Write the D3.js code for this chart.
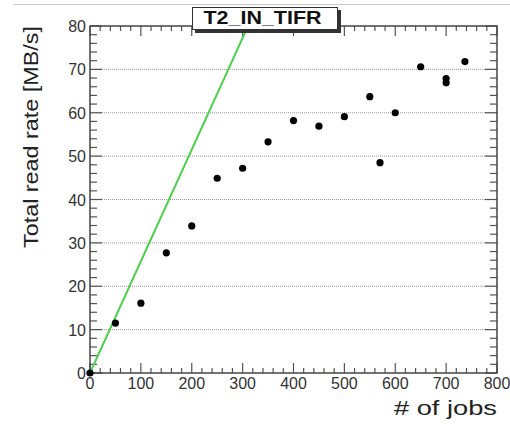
<!DOCTYPE html>
<html>
<head>
<meta charset="utf-8">
<script src="https://cdn.jsdelivr.net/npm/d3@7"></script>
<style>
  body { margin: 0; background: #fff; }
  svg { display: block; font-family: "Liberation Sans", Arial, sans-serif; }
</style>
</head>
<body>
<div class="container"></div>
<script>
const WIDTH = 510;
const HEIGHT = 424;
const LEFT = 90, RIGHT = 497, TOP = 26, BOTTOM = 373;

// measured points: jobs vs total read rate
var jobs = [0, 50, 100, 150, 200, 250, 300, 350, 400, 450, 500, 550, 570, 600, 650, 700, 700, 737];
var rates = [0, 11.5, 16.1, 27.7, 33.9, 44.9, 47.2, 53.3, 58.2, 56.9, 59.1, 63.7, 48.5, 60.0, 70.6, 67.9, 66.9, 71.8];
// fitted line, MB/s per job
var lineJobs = [0, 400];
var lineSlope = 0.2575;
var xTicks = [0, 100, 200, 300, 400, 500, 600, 700, 800];
var yTicks = [0, 10, 20, 30, 40, 50, 60, 70, 80];

var svg = d3.select('.container').append('svg')
  .attr('width', WIDTH).attr('height', HEIGHT);

var x = d3.scaleLinear().domain([0, 800]).range([LEFT, RIGHT]);
var y = d3.scaleLinear().domain([0, 80]).range([BOTTOM, TOP]);

// thin line at the top of the slide
svg.append('line').attr('x1', 14).attr('x2', WIDTH).attr('y1', 4.5).attr('y2', 4.5)
  .attr('stroke', '#c8c8c8').attr('stroke-width', 1);

// dotted grid
svg.append('g').selectAll('line').data(yTicks.slice(1, -1)).enter().append('line')
  .attr('x1', LEFT).attr('x2', RIGHT)
  .attr('y1', d => y(d)).attr('y2', d => y(d))
  .attr('stroke', '#999').attr('stroke-width', 1).attr('stroke-dasharray', '1,1');

var tickColor = '#555';
var minorX = d3.range(0, 801, 20);
var minorY = d3.range(0, 81, 2);

// bottom ticks (inward)
svg.append('g').selectAll('line').data(minorX).enter().append('line')
  .attr('x1', d => x(d)).attr('x2', d => x(d))
  .attr('y1', BOTTOM).attr('y2', d => BOTTOM - (d % 100 === 0 ? 10 : 5))
  .attr('stroke', tickColor).attr('stroke-width', 1.2);
// top ticks
svg.append('g').selectAll('line').data(minorX).enter().append('line')
  .attr('x1', d => x(d)).attr('x2', d => x(d))
  .attr('y1', TOP).attr('y2', d => TOP + (d % 100 === 0 ? 10 : 5))
  .attr('stroke', tickColor).attr('stroke-width', 1.2);
// left ticks
svg.append('g').selectAll('line').data(minorY).enter().append('line')
  .attr('y1', d => y(d)).attr('y2', d => y(d))
  .attr('x1', LEFT).attr('x2', d => LEFT + (d % 10 === 0 ? 12 : 7))
  .attr('stroke', tickColor).attr('stroke-width', 1.2);
// right ticks
svg.append('g').selectAll('line').data(minorY).enter().append('line')
  .attr('y1', d => y(d)).attr('y2', d => y(d))
  .attr('x1', RIGHT).attr('x2', d => RIGHT - (d % 10 === 0 ? 12 : 7))
  .attr('stroke', tickColor).attr('stroke-width', 1.2);

// frame
svg.append('rect').attr('x', LEFT).attr('y', TOP)
  .attr('width', RIGHT - LEFT).attr('height', BOTTOM - TOP)
  .attr('fill', 'none').attr('stroke', '#444').attr('stroke-width', 1.5);

// tick labels
svg.append('g').selectAll('text').data(xTicks).enter().append('text')
  .attr('x', d => x(d)).attr('y', BOTTOM + 16)
  .attr('text-anchor', 'middle').attr('font-size', 16).attr('fill', '#333')
  .text(d => d);
svg.append('g').selectAll('text').data(yTicks).enter().append('text')
  .attr('x', LEFT - 4).attr('y', d => y(d) + 6)
  .attr('text-anchor', 'end').attr('font-size', 16).attr('fill', '#333')
  .text(d => d);

// clip for fitted line
svg.append('clipPath').attr('id', 'plot').append('rect')
  .attr('x', LEFT).attr('y', TOP).attr('width', RIGHT - LEFT).attr('height', BOTTOM - TOP);

var line = d3.line().x(d => x(d)).y(d => y(d * lineSlope));
svg.append('path').datum(lineJobs)
  .attr('d', line).attr('clip-path', 'url(#plot)')
  .attr('fill', 'none').attr('stroke', '#4cd04c').attr('stroke-width', 2);

// points
svg.append('g').selectAll('circle').data(jobs).enter().append('circle')
  .attr('cx', d => x(d)).attr('cy', (d, i) => y(rates[i])).attr('r', 3.6)
  .attr('fill', '#000');

// axis titles
svg.append('text')
  .attr('transform', 'translate(38,137) rotate(-90)')
  .attr('text-anchor', 'middle').attr('font-size', 21).attr('fill', '#222')
  .attr('textLength', 222).attr('lengthAdjust', 'spacingAndGlyphs')
  .text('Total read rate [MB/s]');
svg.append('text')
  .attr('x', RIGHT).attr('y', 415)
  .attr('text-anchor', 'end').attr('font-size', 21).attr('fill', '#222')
  .attr('textLength', 103).attr('lengthAdjust', 'spacingAndGlyphs')
  .text('# of jobs');

// title box with shadow
svg.append('rect').attr('x', 195).attr('y', 10).attr('width', 146).attr('height', 23)
  .attr('fill', '#333');
svg.append('rect').attr('x', 192.5).attr('y', 7.5).attr('width', 145).attr('height', 22)
  .attr('fill', '#fff').attr('stroke', '#333').attr('stroke-width', 1);
svg.append('text').attr('x', 262.5).attr('y', 24)
  .attr('text-anchor', 'middle').attr('font-size', 19).attr('font-weight', 'bold').attr('fill', '#111')
  .attr('textLength', 118).attr('lengthAdjust', 'spacingAndGlyphs')
  .text('T2_IN_TIFR');
</script>
</body>
</html>
